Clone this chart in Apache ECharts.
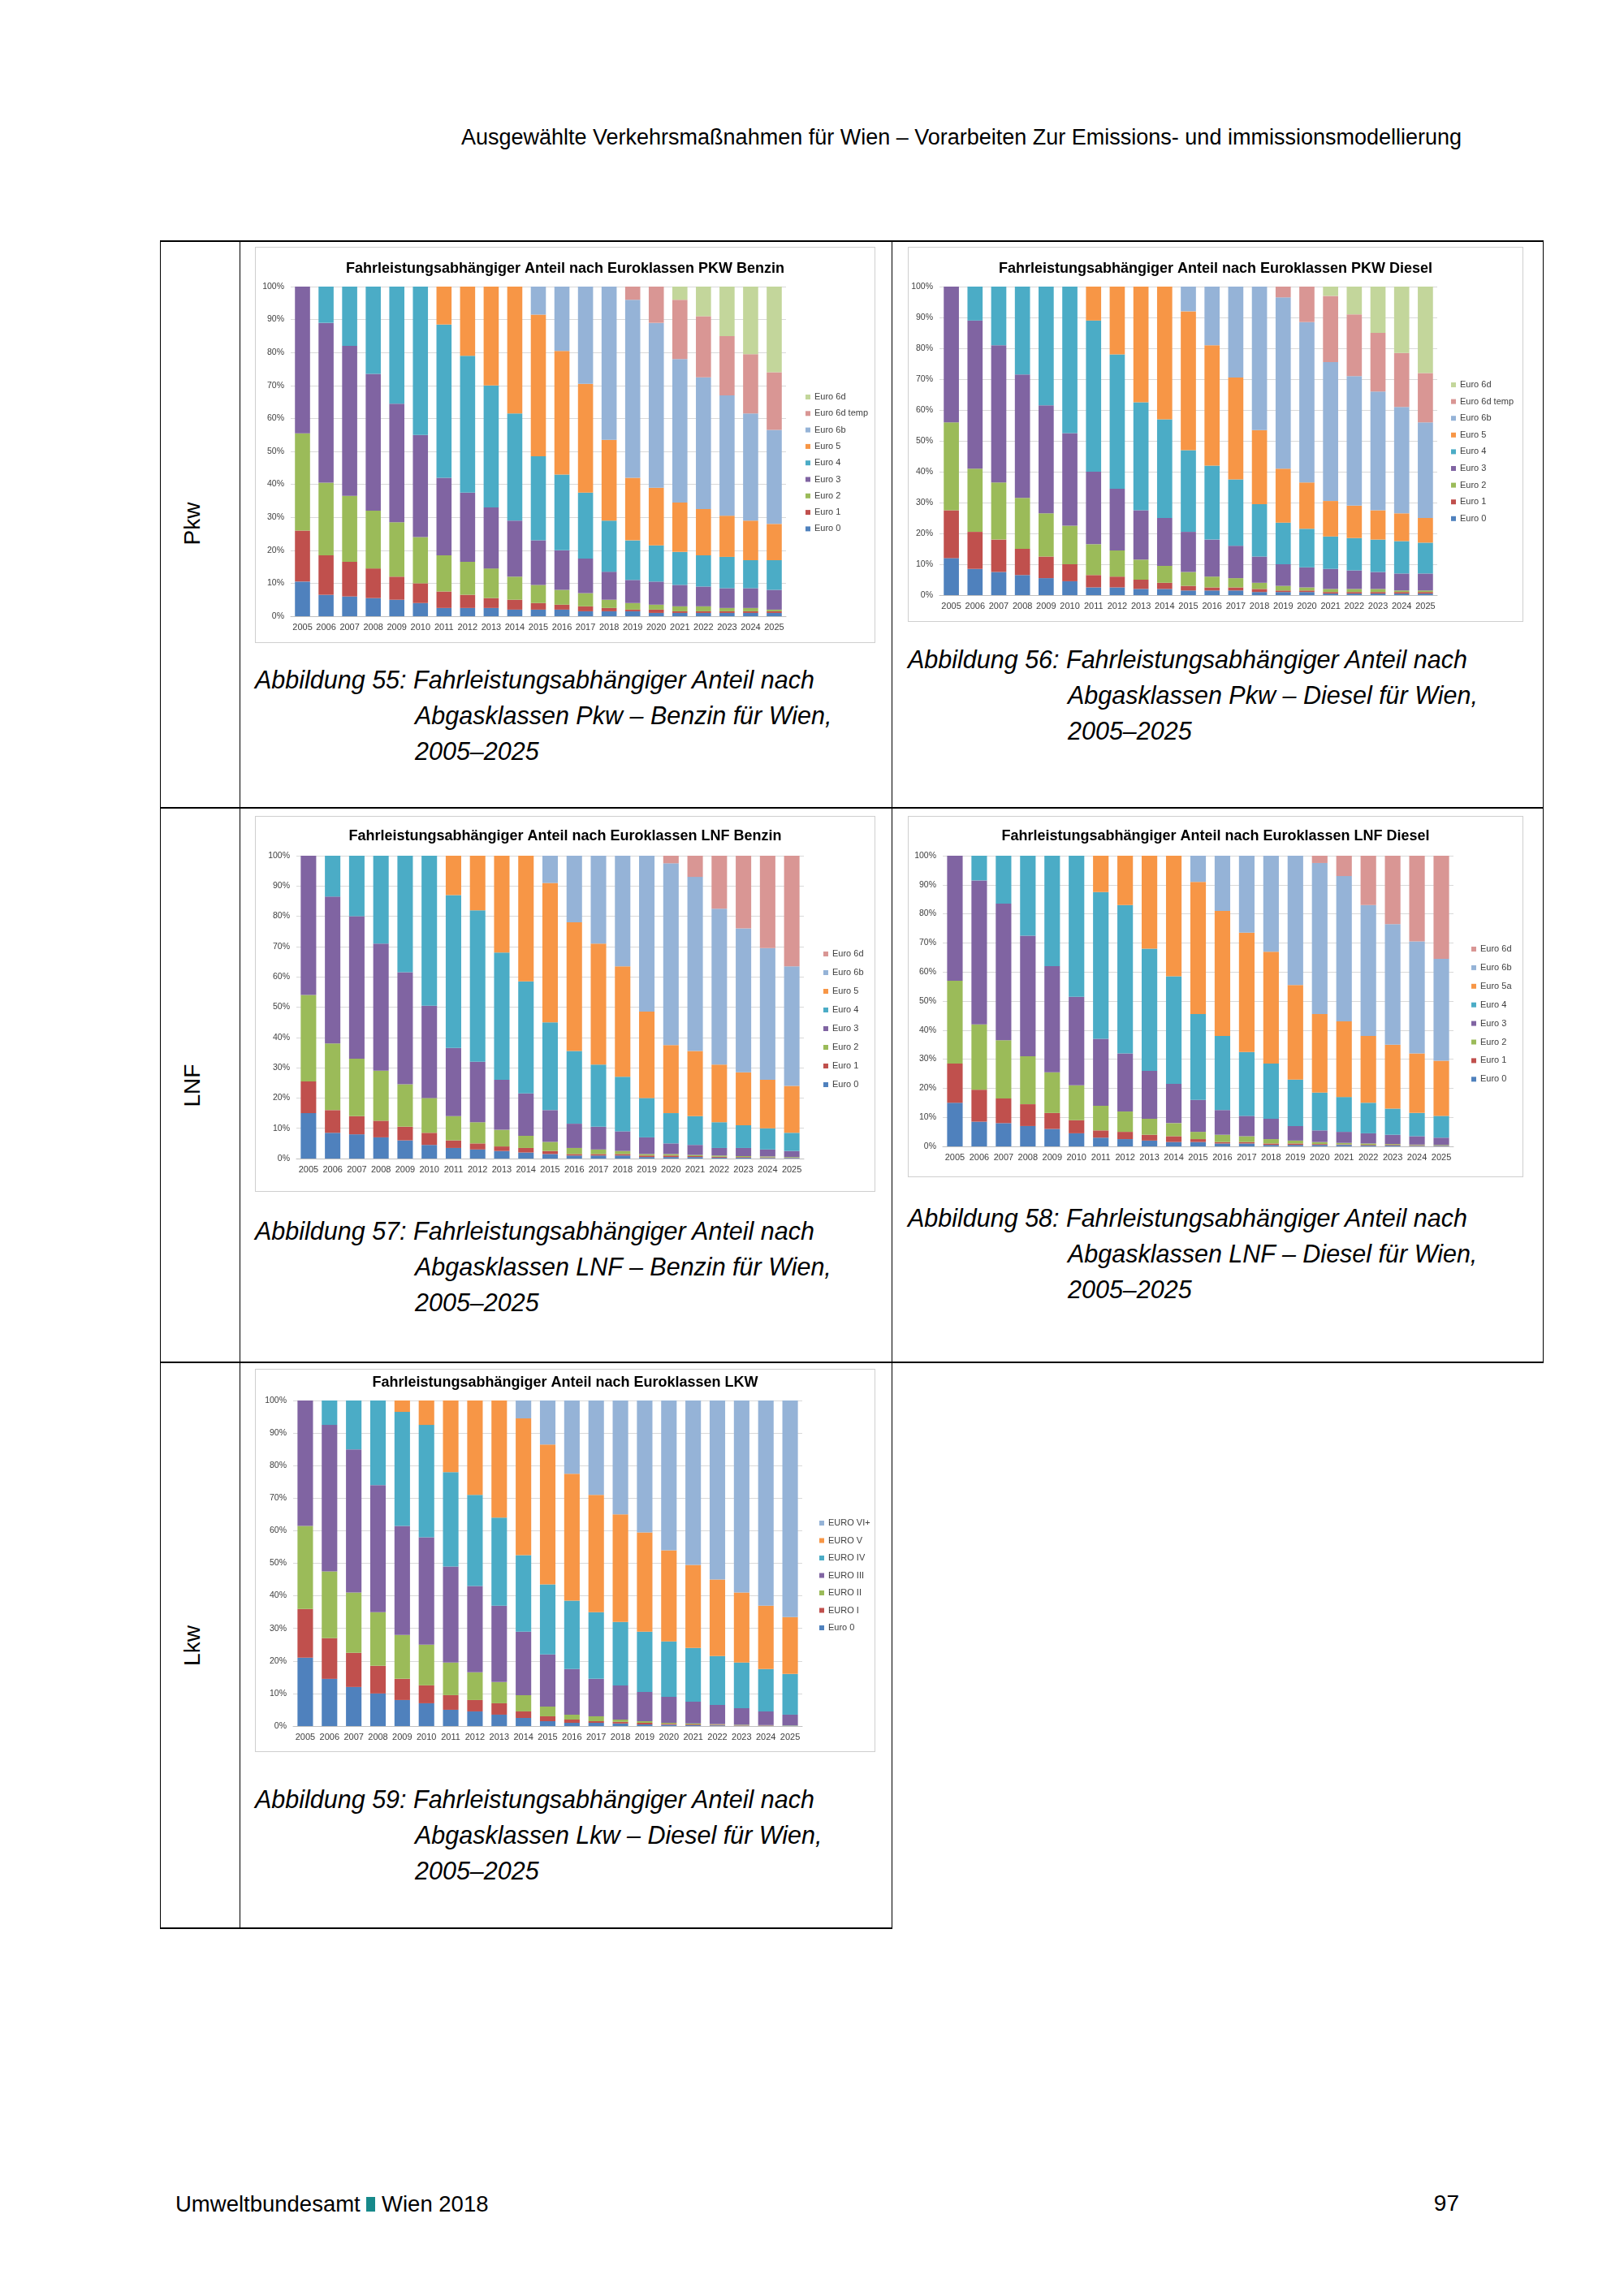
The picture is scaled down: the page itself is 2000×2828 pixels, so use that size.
<!DOCTYPE html>
<html lang="de">

<head>
    <meta charset="UTF-8">
    <title>Fahrleistungsabhängiger Anteil nach Euroklassen</title>
    <style>
        body { margin: 0; background: #fff; }
        #page { position: relative; width: 2000px; height: 2828px; font-family: 'Liberation Sans', Arial, sans-serif; color: #000; }
        .abs { position: absolute; }
        .hl { position: absolute; background: #000; }
        .vl { position: absolute; background: #000; width: 1px; }
        .box { position: absolute; border: 1px solid #cfcfcf; box-sizing: border-box; }
        .cap { position: absolute; font-style: italic; font-size: 30.5px; line-height: 44px; white-space: nowrap; padding-left: 197px; text-indent: -197px; }
        .rowlab { position: absolute; font-size: 28px; transform: translate(-50%, -50%) rotate(-90deg); white-space: nowrap; }
    </style>
</head>

<body>
<div id="page">
    <div class="abs" style="right:200px; top:154px; font-size:27px;">Ausgewählte Verkehrsmaßnahmen für Wien – Vorarbeiten Zur Emissions- und immissionsmodellierung</div>

    <!-- Tabellenlinien -->
    <div class="hl" style="left:197px; top:296px; width:1704px; height:2px;"></div>
    <div class="hl" style="left:197px; top:994px; width:1704px; height:2px;"></div>
    <div class="hl" style="left:197px; top:1677px; width:1704px; height:2px;"></div>
    <div class="hl" style="left:197px; top:2374px; width:902px; height:2px;"></div>
    <div class="vl" style="left:197px; top:296px; height:2080px;"></div>
    <div class="vl" style="left:295px; top:296px; height:2080px;"></div>
    <div class="vl" style="left:1098px; top:296px; height:2080px;"></div>
    <div class="vl" style="left:1900px; top:296px; height:1383px;"></div>

    <div class="rowlab" style="left:237px; top:645px;">Pkw</div>
    <div class="rowlab" style="left:237px; top:1337px;">LNF</div>
    <div class="rowlab" style="left:237px; top:2027px;">Lkw</div>

    <div id="c1" class="box" style="left:314px; top:304px; width:764px; height:488px;"></div>
    <div id="c2" class="box" style="left:1118px; top:304px; width:758px; height:462px;"></div>
    <div id="c3" class="box" style="left:314px; top:1005px; width:764px; height:463px;"></div>
    <div id="c4" class="box" style="left:1118px; top:1005px; width:758px; height:445px;"></div>
    <div id="c5" class="box" style="left:314px; top:1686px; width:764px; height:472px;"></div>

    <div class="cap" style="left:314px; top:815px;">Abbildung 55: Fahrleistungsabhängiger Anteil nach<br>Abgasklassen Pkw – Benzin für Wien,<br>2005–2025</div>
    <div class="cap" style="left:1118px; top:790px;">Abbildung 56: Fahrleistungsabhängiger Anteil nach<br>Abgasklassen Pkw – Diesel für Wien,<br>2005–2025</div>
    <div class="cap" style="left:314px; top:1494px;">Abbildung 57: Fahrleistungsabhängiger Anteil nach<br>Abgasklassen LNF – Benzin für Wien,<br>2005–2025</div>
    <div class="cap" style="left:1118px; top:1478px;">Abbildung 58: Fahrleistungsabhängiger Anteil nach<br>Abgasklassen LNF – Diesel für Wien,<br>2005–2025</div>
    <div class="cap" style="left:314px; top:2194px;">Abbildung 59: Fahrleistungsabhängiger Anteil nach<br>Abgasklassen Lkw – Diesel für Wien,<br>2005–2025</div>

    <div class="abs" style="left:216px; top:2699px; font-size:27.5px;">Umweltbundesamt <span style="display:inline-block; width:11px; height:18px; background:#17898a;"></span> Wien 2018</div>
    <div class="abs" style="right:203px; top:2698px; font-size:28px;">97</div>
</div>

<script src="https://cdn.jsdelivr.net/npm/echarts/dist/echarts.min.js"></script>
<script>
    const years = ['2005', '2006', '2007', '2008', '2009', '2010', '2011', '2012', '2013', '2014', '2015',
        '2016', '2017', '2018', '2019', '2020', '2021', '2022', '2023', '2024', '2025']

    // PKW Benzin, Anteile in %
    const pkwBenzinE0 = [10.5, 6.5, 6, 5.5, 5, 4, 2.5, 2.5, 2.5, 2, 2, 2, 1.5, 1.5, 1.5, 1, 1, 1, 1, 1, 1]
    const pkwBenzinE1 = [15.5, 12, 10.5, 9, 7, 6, 5, 4, 3, 3, 2, 1.5, 1.5, 1, 0.5, 1, 0.5, 0.5, 0.5, 0.5, 0.5]
    const pkwBenzinE2 = [29.5, 22, 20, 17.5, 16.5, 14, 11, 10, 9, 7, 5.5, 4.5, 4, 2.5, 2, 1.5, 1.5, 1.5, 1, 1, 0.5]
    const pkwBenzinE3 = [44.5, 48.5, 45.5, 41.5, 36, 31, 23.5, 21, 18.5, 17, 13.5, 12, 10.5, 8.5, 7, 7, 6.5, 6, 6, 6, 6]
    const pkwBenzinE4 = [0, 11, 18, 26.5, 35.5, 45, 46.5, 41.5, 37, 32.5, 25.5, 23, 20, 15.5, 12, 11, 10, 9.5, 9.5, 8.5, 9]
    const pkwBenzinE5 = [0, 0, 0, 0, 0, 0, 11.5, 21, 30, 38.5, 43, 37.5, 33, 24.5, 19, 17.5, 15, 14, 12.5, 12, 11]
    const pkwBenzinE6b = [0, 0, 0, 0, 0, 0, 0, 0, 0, 0, 8.5, 19.5, 29.5, 46.5, 54, 50, 43.5, 40, 36.5, 32.5, 28.5]
    const pkwBenzinE6dt = [0, 0, 0, 0, 0, 0, 0, 0, 0, 0, 0, 0, 0, 0, 4, 11, 18, 18.5, 18, 18, 17.5]
    const pkwBenzinE6d = [0, 0, 0, 0, 0, 0, 0, 0, 0, 0, 0, 0, 0, 0, 0, 0, 4, 9, 15, 20.5, 26]

    // PKW Diesel
    const pkwDieselE0 = [12, 8.5, 7.5, 6.5, 5.5, 4.5, 2.5, 2.5, 2, 2, 1.5, 1.5, 1.5, 1, 1, 1, 0.5, 0.5, 0.5, 0.5, 0.5]
    const pkwDieselE1 = [15.5, 12, 10.5, 8.5, 7, 5.5, 4, 3.5, 3, 2, 1.5, 1, 1, 1, 0.5, 0.5, 0.5, 0.5, 0.5, 0.5, 0.5]
    const pkwDieselE2 = [28.5, 20.5, 18.5, 16.5, 14, 12.5, 10, 8.5, 6.5, 5.5, 4.5, 3.5, 3, 2, 1.5, 1, 1, 1, 1, 0.5, 0.5]
    const pkwDieselE3 = [44, 48, 44.5, 40, 35, 30, 23.5, 20, 16, 15.5, 13, 12, 10.5, 8.5, 7, 6.5, 6.5, 6, 5.5, 5.5, 5.5]
    const pkwDieselE4 = [0, 11, 19, 28.5, 38.5, 47.5, 49, 43.5, 35, 32, 26.5, 24, 21.5, 17, 13.5, 12.5, 10.5, 10.5, 10.5, 10.5, 10]
    const pkwDieselE5 = [0, 0, 0, 0, 0, 0, 11, 22, 37.5, 43, 45, 39, 33, 24, 17.5, 15, 11.5, 10.5, 9.5, 9, 8]
    const pkwDieselE6b = [0, 0, 0, 0, 0, 0, 0, 0, 0, 0, 8, 19, 29.5, 46.5, 55.5, 52, 45, 42, 38.5, 34.5, 31]
    const pkwDieselE6dt = [0, 0, 0, 0, 0, 0, 0, 0, 0, 0, 0, 0, 0, 0, 3.5, 11.5, 21.5, 20, 19, 17.5, 16]
    const pkwDieselE6d = [0, 0, 0, 0, 0, 0, 0, 0, 0, 0, 0, 0, 0, 0, 0, 0, 3, 9, 15, 21.5, 28]

    // LNF Benzin
    const lnfBenzinE0 = [15, 8.5, 8, 7, 6, 4.5, 3.5, 3, 2.5, 2, 1.5, 1, 1, 1, 0.5, 0.5, 0.5, 0.3, 0.3, 0.2, 0.2]
    const lnfBenzinE1 = [10.5, 7.5, 6, 5.5, 4.5, 4, 2.5, 2, 1.5, 1.5, 1, 0.5, 0.5, 0.5, 0.5, 0.5, 0.3, 0.3, 0.2, 0.2, 0.1]
    const lnfBenzinE2 = [28.5, 22, 19, 16.5, 14, 11.5, 8, 7, 5.5, 4, 3, 2, 1.5, 1, 0.5, 0.5, 0.4, 0.4, 0.3, 0.3, 0.2]
    const lnfBenzinE3 = [46, 48.5, 47, 42, 37, 30.5, 22.5, 20, 16.5, 14, 10.5, 8, 7.5, 6.5, 5.5, 3.5, 3.3, 2.5, 2.7, 2.3, 2]
    const lnfBenzinE4 = [0, 13.5, 20, 29, 38.5, 49.5, 50.5, 50, 42, 37, 29, 24, 20.5, 18, 13, 10, 9.5, 8.5, 7.5, 7, 6]
    const lnfBenzinE5 = [0, 0, 0, 0, 0, 0, 13, 18, 32, 41.5, 46, 42.5, 40, 36.5, 28.5, 22.5, 21.5, 19, 17.5, 16, 15.5]
    const lnfBenzinE6b = [0, 0, 0, 0, 0, 0, 0, 0, 0, 0, 9, 22, 29, 36.5, 51.5, 60, 57.5, 51.5, 47.5, 43.5, 39.5]
    const lnfBenzinE6d = [0, 0, 0, 0, 0, 0, 0, 0, 0, 0, 0, 0, 0, 0, 0, 2.5, 7, 17.5, 24, 30.5, 36.5]

    // LNF Diesel
    const lnfDieselE0 = [15, 8.5, 8, 7, 6, 4.5, 3, 2.5, 2, 1.5, 1.5, 1, 1, 0.5, 0.5, 0.5, 0.5, 0.3, 0.3, 0.2, 0.2]
    const lnfDieselE1 = [13.5, 11, 8.5, 7.5, 5.5, 4.5, 2.5, 2.5, 2, 2, 1, 0.5, 0.5, 0.5, 0.5, 0.3, 0.2, 0.2, 0.2, 0.2, 0.1]
    const lnfDieselE2 = [28.5, 22.5, 20, 16.5, 14, 12, 8.5, 7, 5.5, 4.5, 2.5, 2.5, 2, 1.5, 1, 0.7, 0.5, 0.5, 0.3, 0.2, 0.2]
    const lnfDieselE3 = [43, 49.5, 47, 41.5, 36.5, 30.5, 23, 20, 16.5, 13.5, 11, 8.5, 7, 7, 5, 4, 3.8, 3.5, 3.2, 2.9, 2.5]
    const lnfDieselE4 = [0, 8.5, 16.5, 27.5, 38, 48.5, 50.5, 51, 42, 37, 29.5, 25.5, 22, 19, 16, 13, 12, 10.5, 9, 8, 7.5]
    const lnfDieselE5a = [0, 0, 0, 0, 0, 0, 12.5, 17, 32, 41.5, 45.5, 43, 41, 38.5, 32.5, 27, 26, 23, 22, 20.5, 19]
    const lnfDieselE6b = [0, 0, 0, 0, 0, 0, 0, 0, 0, 0, 9, 19, 26.5, 33, 44.5, 52, 50, 45, 41.5, 38.5, 35]
    const lnfDieselE6d = [0, 0, 0, 0, 0, 0, 0, 0, 0, 0, 0, 0, 0, 0, 0, 2.5, 7, 17, 23.5, 29.5, 35.5]

    // LKW
    const lkwE0 = [21, 14.5, 12, 10, 8, 7, 5, 4.5, 3.5, 2.5, 1.5, 1, 1, 0.8, 0.5, 0.4, 0.3, 0.2, 0.1, 0.1, 0.1]
    const lkwEI = [15, 12.5, 10.5, 8.5, 6.5, 5.5, 4.5, 3.5, 3.5, 2, 1.5, 1, 0.5, 0.5, 0.5, 0.3, 0.2, 0.2, 0.1, 0.1, 0]
    const lkwEII = [25.5, 20.5, 18.5, 16.5, 13.5, 12.5, 10, 8.5, 6.5, 5, 3, 1.5, 1.5, 0.7, 0.5, 0.3, 0.3, 0.2, 0.2, 0.1, 0.1]
    const lkwEIII = [38.5, 45, 44, 39, 33.5, 33, 29.5, 26.5, 23.5, 19.5, 16, 14, 11.5, 10.5, 9, 8, 6.7, 5.9, 5.1, 4.2, 3.3]
    const lkwEIV = [0, 7.5, 15, 26, 35, 34.5, 29, 28, 27, 23.5, 21.5, 21, 20.5, 19.5, 18.5, 17, 16.5, 15, 14, 13, 12.5]
    const lkwEV = [0, 0, 0, 0, 3.5, 7.5, 22, 29, 36, 42, 43, 39, 36, 33, 30.5, 28, 25.5, 23.5, 21.5, 19.5, 17.5]
    const lkwEVI = [0, 0, 0, 0, 0, 0, 0, 0, 0, 5.5, 13.5, 22.5, 29, 35, 40.5, 46, 50.5, 55, 59, 63, 66.5]

    const cBlue = '#4f81bd', cRed = '#c0504d', cGreen = '#9bbb59', cPurple = '#8064a2',
        cAqua = '#4bacc6', cOrange = '#f79646', cLightBlue = '#95b3d7', cPink = '#d99694', cLightGreen = '#c3d69b'

    function drawChart(id, title, names, colors, data, lay) {
        const chart = echarts.init(document.getElementById(id))
        chart.setOption({
            animation: false,
            title: {
                text: title,
                left: 'center',
                top: lay.titleTop,
                textStyle: { fontFamily: 'Liberation Sans', fontSize: 18, fontWeight: 'bold', color: '#000' }
            },
            grid: { left: lay.left, right: lay.right, top: lay.top, bottom: lay.bottom },
            legend: {
                orient: 'vertical',
                left: lay.legendLeft,
                top: lay.legendTop,
                icon: 'rect',
                itemWidth: 6,
                itemHeight: 6,
                itemGap: lay.legendGap,
                data: names.slice().reverse(),
                textStyle: { fontFamily: 'Liberation Sans', fontSize: 11, lineHeight: 12, color: '#404040' }
            },
            xAxis: {
                type: 'category',
                data: years,
                axisTick: { show: false },
                axisLine: { lineStyle: { color: '#bfbfbf' } },
                axisLabel: { interval: 0, fontFamily: 'Liberation Sans', fontSize: 11, color: '#404040', margin: 8 }
            },
            yAxis: {
                type: 'value',
                min: 0,
                max: 100,
                interval: 10,
                axisLabel: { formatter: '{value}%', fontFamily: 'Liberation Sans', fontSize: 10.5, color: '#404040', margin: 8 },
                splitLine: { lineStyle: { color: '#d9d9d9' } }
            },
            series: names.map((n, i) => ({
                name: n,
                type: 'bar',
                stack: 'anteil',
                barWidth: '64%',
                data: data[i],
                itemStyle: { color: colors[i] }
            }))
        })
    }

    drawChart('c1', 'Fahrleistungsabhängiger Anteil nach Euroklassen PKW Benzin',
        ['Euro 0', 'Euro 1', 'Euro 2', 'Euro 3', 'Euro 4', 'Euro 5', 'Euro 6b', 'Euro 6d temp', 'Euro 6d'],
        [cBlue, cRed, cGreen, cPurple, cAqua, cOrange, cLightBlue, cPink, cLightGreen],
        [pkwBenzinE0, pkwBenzinE1, pkwBenzinE2, pkwBenzinE3, pkwBenzinE4, pkwBenzinE5, pkwBenzinE6b, pkwBenzinE6dt, pkwBenzinE6d],
        { titleTop: 12, left: 43, right: 109, top: 48, bottom: 32, legendLeft: 672, legendTop: 173, legendGap: 8.3 })

    drawChart('c2', 'Fahrleistungsabhängiger Anteil nach Euroklassen PKW Diesel',
        ['Euro 0', 'Euro 1', 'Euro 2', 'Euro 3', 'Euro 4', 'Euro 5', 'Euro 6b', 'Euro 6d temp', 'Euro 6d'],
        [cBlue, cRed, cGreen, cPurple, cAqua, cOrange, cLightBlue, cPink, cLightGreen],
        [pkwDieselE0, pkwDieselE1, pkwDieselE2, pkwDieselE3, pkwDieselE4, pkwDieselE5, pkwDieselE6b, pkwDieselE6dt, pkwDieselE6d],
        { titleTop: 12, left: 38, right: 105, top: 48, bottom: 32, legendLeft: 663, legendTop: 158, legendGap: 8.6 })

    drawChart('c3', 'Fahrleistungsabhängiger Anteil nach Euroklassen LNF Benzin',
        ['Euro 0', 'Euro 1', 'Euro 2', 'Euro 3', 'Euro 4', 'Euro 5', 'Euro 6b', 'Euro 6d'],
        [cBlue, cRed, cGreen, cPurple, cAqua, cOrange, cLightBlue, cPink],
        [lnfBenzinE0, lnfBenzinE1, lnfBenzinE2, lnfBenzinE3, lnfBenzinE4, lnfBenzinE5, lnfBenzinE6b, lnfBenzinE6d],
        { titleTop: 10, left: 50, right: 87, top: 48, bottom: 40, legendLeft: 694, legendTop: 158, legendGap: 11 })

    drawChart('c4', 'Fahrleistungsabhängiger Anteil nach Euroklassen LNF Diesel',
        ['Euro 0', 'Euro 1', 'Euro 2', 'Euro 3', 'Euro 4', 'Euro 5a', 'Euro 6b', 'Euro 6d'],
        [cBlue, cRed, cGreen, cPurple, cAqua, cOrange, cLightBlue, cPink],
        [lnfDieselE0, lnfDieselE1, lnfDieselE2, lnfDieselE3, lnfDieselE4, lnfDieselE5a, lnfDieselE6b, lnfDieselE6d],
        { titleTop: 10, left: 42, right: 85, top: 48, bottom: 37, legendLeft: 688, legendTop: 152, legendGap: 10.9 })

    drawChart('c5', 'Fahrleistungsabhängiger Anteil nach Euroklassen LKW',
        ['Euro 0', 'EURO I', 'EURO II', 'EURO III', 'EURO IV', 'EURO V', 'EURO VI+'],
        [cBlue, cRed, cGreen, cPurple, cAqua, cOrange, cLightBlue],
        [lkwE0, lkwEI, lkwEII, lkwEIII, lkwEIV, lkwEV, lkwEVI],
        { titleTop: 2, left: 46, right: 89, top: 38, bottom: 31, legendLeft: 689, legendTop: 178, legendGap: 9.5 })
</script>
</body>

</html>
